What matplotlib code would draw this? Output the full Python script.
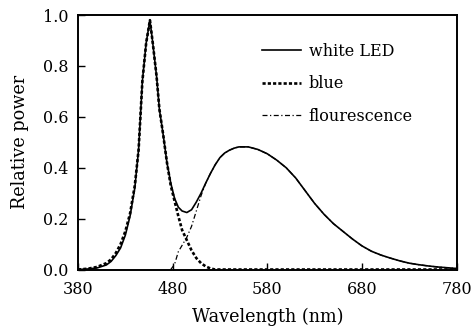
import numpy as np
import matplotlib
matplotlib.use('Agg')
import matplotlib.pyplot as plt

# spectra
wavelength = [380, 390, 400, 410, 415, 420, 425, 430, 435, 440, 444, 448, 452, 456,
              459, 463, 466, 470, 474, 478, 482, 486, 490, 495, 500, 505, 510, 515,
              520, 525, 530, 535, 540, 545, 550, 560, 570, 580, 590, 600, 610, 620, 630, 640,
              650, 660, 670, 680, 690, 700, 710, 720, 730, 740, 750, 760, 770, 780]

white_led = [0.0, 0.002, 0.006, 0.018, 0.032, 0.055, 0.085, 0.135, 0.21, 0.32, 0.47, 0.74, 0.89, 0.98,
             0.89, 0.76, 0.63, 0.53, 0.42, 0.34, 0.28, 0.245, 0.23, 0.224, 0.235, 0.265, 0.30, 0.34,
             0.378, 0.412, 0.44, 0.458, 0.469, 0.477, 0.482, 0.482, 0.472, 0.455, 0.43, 0.40, 0.36, 0.31, 0.26, 0.217,
             0.18, 0.15, 0.12, 0.093, 0.072, 0.057, 0.045, 0.034, 0.025, 0.019, 0.014, 0.010, 0.007, 0.004]

blue = [0.0, 0.003, 0.010, 0.025, 0.040, 0.065, 0.10, 0.15, 0.22, 0.33, 0.47, 0.74, 0.89, 0.98,
        0.89, 0.76, 0.63, 0.53, 0.42, 0.33, 0.27, 0.21, 0.155, 0.115, 0.075, 0.045, 0.025, 0.012,
        0.004, 0.0, 0.0, 0.0, 0.0, 0.0, 0.0, 0.0, 0.0, 0.0, 0.0, 0.0, 0.0, 0.0, 0.0, 0.0,
        0.0, 0.0, 0.0, 0.0, 0.0, 0.0, 0.0, 0.0, 0.0, 0.0, 0.0, 0.0, 0.0, 0.0]

nan = float('nan')
flourescence = [nan, nan, nan, nan, nan, nan, nan, nan, nan, nan, nan, nan, nan, nan,
                nan, nan, nan, nan, nan, 0.0, 0.02, 0.07, 0.095, 0.127, 0.17, 0.23, 0.29, 0.34,
                0.378, 0.412, 0.44, 0.458, 0.469, 0.477, 0.482, 0.482, 0.472, 0.455, 0.43, 0.40, 0.36, 0.31, 0.26, 0.217,
                0.18, 0.15, 0.12, 0.093, 0.072, 0.057, 0.045, 0.034, 0.025, 0.019, 0.014, 0.010, 0.007, 0.004]

plt.rcParams['font.family'] = ['DejaVu Serif']

fig = plt.figure(figsize=(4.74, 3.27), dpi=100)
ax = fig.add_axes([0.1646, 0.1758, 0.7985, 0.778])

ax.plot(wavelength, white_led, '-', color='black', lw=1.2, label='white LED')
ax.plot(wavelength, blue, color='black', lw=1.9, dashes=(1.2, 0.8), label='blue')
ax.plot(wavelength, flourescence, color='black', lw=0.9, dashes=(4, 2, 1, 2), label='flourescence')

ax.set_xlim(380, 780)
ax.set_ylim(0, 1.0)
ax.set_xticks([380, 480, 580, 680, 780])
ax.set_yticks([0.0, 0.2, 0.4, 0.6, 0.8, 1.0])
ax.set_yticklabels(['0.0', '0.2', '0.4', '0.6', '0.8', '1.0'])
ax.tick_params(direction='in', length=5, width=1, labelsize=11.5)
ax.tick_params(axis='x', pad=8)
ax.tick_params(axis='y', pad=7)
for s in ax.spines.values():
    s.set_linewidth(1.4)

ax.set_xlabel('Wavelength (nm)', fontsize=12.7, labelpad=7)
ax.set_ylabel('Relative power', fontsize=12.7, labelpad=10)

ax.legend(loc='upper left', bbox_to_anchor=(0.487, 0.892), frameon=False,
          borderaxespad=0, borderpad=0,
          handlelength=2.4, handletextpad=0.5, labelspacing=0.98, fontsize=11.5)

fig.savefig('out.png', dpi=100)
